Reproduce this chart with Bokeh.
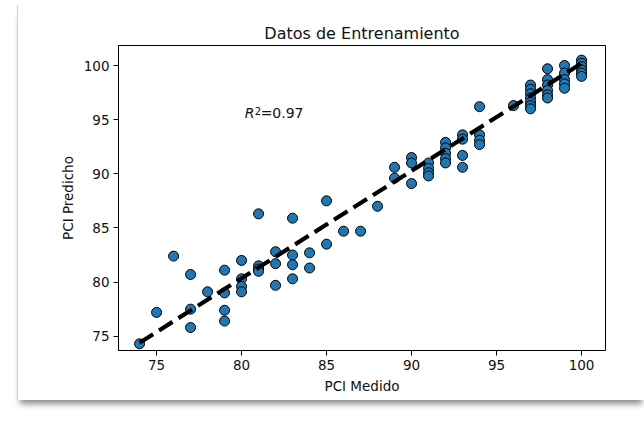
from bokeh.plotting import figure
from bokeh.models import ColumnDataSource, Range1d, FixedTicker, Label
from bokeh.embed import file_html
from bokeh.resources import INLINE

# --- data ---
pci_medido = [74, 75, 76, 77, 77, 77, 78, 79, 79, 79, 79,
              80, 80, 80, 80, 81, 81, 81, 81, 82, 82, 82,
              83, 83, 83, 83, 84, 84, 85, 85, 86, 87, 88,
              89, 89, 90, 90, 90, 91, 91, 91, 91,
              92, 92, 92, 92, 92, 93, 93, 93, 93,
              94, 94, 94, 94, 96,
              97, 97, 97, 97, 97, 97, 97,
              98, 98, 98, 98, 98, 98,
              99, 99, 99, 99, 99,
              100, 100, 100, 100, 100, 100]
pci_predicho = [74.3, 77.2, 82.4, 80.7, 77.5, 75.8, 79.1, 81.1, 79.0, 77.4, 76.4,
                82.0, 80.3, 79.6, 79.1, 86.3, 81.5, 81.2, 81.0, 82.8, 81.7, 79.7,
                85.9, 82.5, 81.6, 80.3, 82.7, 81.3, 87.5, 83.5, 84.7, 84.7, 87.0,
                90.6, 89.6, 91.5, 91.0, 89.1, 91.0, 90.5, 90.1, 89.8,
                92.9, 92.4, 91.9, 91.4, 91.0, 93.6, 93.2, 91.7, 90.6,
                96.2, 93.6, 93.1, 92.7, 96.3,
                98.2, 97.8, 97.4, 97.0, 96.6, 96.3, 96.0,
                99.7, 98.7, 98.2, 97.7, 97.3, 97.0,
                100.0, 99.3, 98.7, 98.3, 97.9,
                100.5, 100.2, 99.9, 99.6, 99.3, 99.0]
fit_x = [74, 100]
fit_y = [74.4, 100.2]
x_ticks = [75, 80, 85, 90, 95, 100]
y_ticks = [75, 80, 85, 90, 95, 100]
title_text = "Datos de Entrenamiento"
x_label = "PCI Medido"
y_label = "PCI Predicho"
r2_value = "0.97"

FONT = "DejaVu Sans"

p = figure(
    frame_width=487, frame_height=305,
    min_border_left=100, min_border_right=40,
    min_border_top=40, min_border_bottom=50,
    x_range=Range1d(72.76, 101.41), y_range=Range1d(73.68, 101.85),
    output_backend="svg", toolbar_location=None,
    background_fill_color="white", border_fill_color="white",
)
p.styles = {
    "margin-left": "17px",
    "margin-top": "5px",
    "border-left": "1px solid #cfcfcf",
    "box-shadow": "0px 7px 6px -3px rgba(0,0,0,0.45)",
}

p.title.text = title_text
p.title.align = "center"
p.title.text_font = FONT
p.title.text_font_size = "16px"
p.title.text_font_style = "normal"
p.title.text_color = "#111111"
p.title.standoff = 6

p.grid.visible = False
p.outline_line_color = "black"
p.outline_line_alpha = 1.0
p.outline_line_width = 1

for ax, ticks, lab in ((p.xaxis[0], x_ticks, x_label), (p.yaxis[0], y_ticks, y_label)):
    ax.ticker = FixedTicker(ticks=ticks)
    ax.axis_label = lab
    ax.axis_label_text_font = FONT
    ax.axis_label_text_font_size = "13.5px"
    ax.axis_label_text_font_style = "normal"
    ax.axis_label_text_color = "#111111"
    ax.major_label_text_font = FONT
    ax.major_label_text_font_size = "13.5px"
    ax.major_label_text_color = "#111111"
    ax.major_tick_in = 0
    ax.major_tick_out = 5
    ax.minor_tick_in = 0
    ax.minor_tick_out = 0
    ax.axis_line_color = "black"
    ax.major_tick_line_color = "black"
    ax.major_label_standoff = 4
    ax.axis_label_standoff = 5

src = ColumnDataSource(dict(x=pci_medido, y=pci_predicho))
p.scatter("x", "y", source=src, marker="circle", size=10,
          fill_color="#1f77b4", line_color="black", line_width=1)

p.line(fit_x, fit_y, line_color="black", line_width=4.2, line_dash="16 7")

lab_kw = dict(text_font=FONT, text_color="#111111", x_units="data", y_units="data")
p.add_layout(Label(x=80.18, y=94.9, text="R", text_font_style="italic",
                   text_font_size="14px", **lab_kw))
p.add_layout(Label(x=80.18, y=94.9, x_offset=10, y_offset=6, text="2",
                   text_font_size="10px", **lab_kw))
p.add_layout(Label(x=80.18, y=94.9, x_offset=16, text="=" + r2_value,
                   text_font_size="14px", **lab_kw))

open("out.html", "w").write(file_html(p, INLINE))
